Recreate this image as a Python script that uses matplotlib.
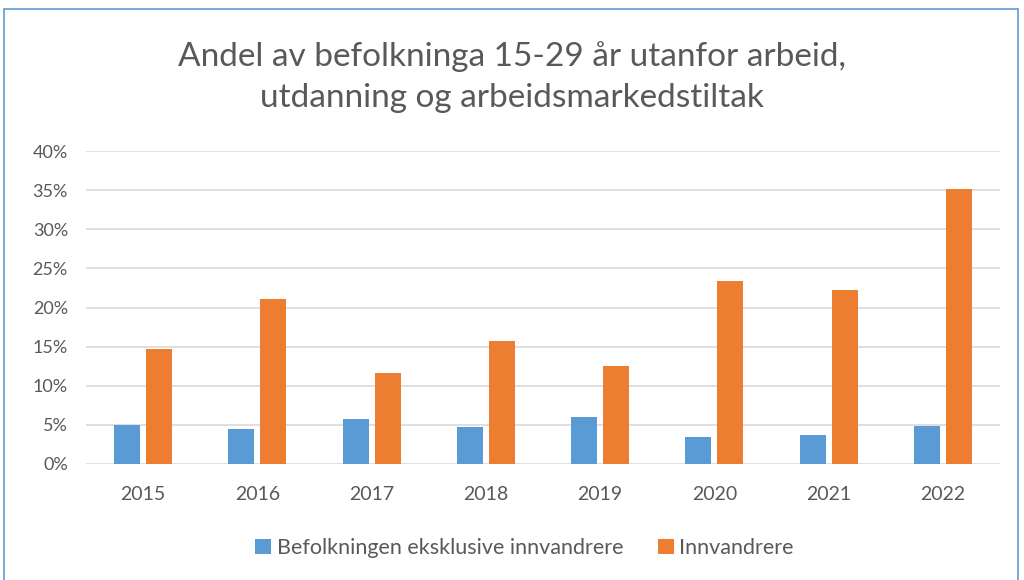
import matplotlib
matplotlib.use("Agg")
import matplotlib.pyplot as plt
import matplotlib.ticker as mticker
from matplotlib.patches import Rectangle
import numpy as np

years = ["2015", "2016", "2017", "2018", "2019", "2020", "2021", "2022"]
ekskl_innv = [5.0, 4.5, 5.75, 4.7, 6.0, 3.45, 3.7, 4.85]
innvandrere = [14.7, 21.1, 11.6, 15.7, 12.5, 23.4, 22.3, 35.1]
series_names = ["Befolkningen eksklusive innvandrere", "Innvandrere"]
title = "Andel av befolkninga 15-29 år utanfor arbeid,\nutdanning og arbeidsmarkedstiltak"

plt.rcParams["font.family"] = ["Lato", "DejaVu Sans"]
text_color = "#595959"

fig = plt.figure(figsize=(10.24, 5.8), dpi=100)
ax = fig.add_axes([86 / 1024, 1 - 464 / 580, 914 / 1024, 313 / 580])

# chart border
fig.patches.append(Rectangle((4 / 1024, -0.05), 1014 / 1024, 1.05 - 9 / 580,
                             transform=fig.transFigure, fill=False,
                             edgecolor="#5B9BD5", linewidth=1.2))

x = np.arange(len(years))
width = 0.228
offset = 0.14
ax.bar(x - offset, ekskl_innv, width, color="#5B9BD5", label=series_names[0], zorder=3)
ax.bar(x + offset, innvandrere, width, color="#ED7D31", label=series_names[1], zorder=3)

ax.set_xlim(-0.5, len(years) - 0.5)
ax.set_ylim(0, 40)
ax.yaxis.set_major_locator(mticker.MultipleLocator(5))
ax.yaxis.set_major_formatter(mticker.FuncFormatter(lambda v, p: f"{v:.0f}%"))
ax.set_xticks(x)
ax.set_xticklabels(years)
ax.grid(axis="y", color="#D9D9D9", linewidth=1.2, zorder=0)
for s in ax.spines.values():
    s.set_visible(False)
ax.tick_params(length=0, colors=text_color)
ax.tick_params(axis="x", pad=16, labelsize=14)
ax.tick_params(axis="y", pad=13, labelsize=13)

fig.text(0.5, 1 - 77 / 580, title, ha="center", va="center", fontsize=24,
         color=text_color, linespacing=1.45)

fig.legend(loc="center", bbox_to_anchor=(0.512, 1 - 548 / 580), ncol=2, frameon=False,
           fontsize=15.5, labelcolor=text_color, handlelength=0.75, handleheight=0.75,
           handletextpad=0.25, columnspacing=1.6)

fig.savefig("out.png", dpi=100)
